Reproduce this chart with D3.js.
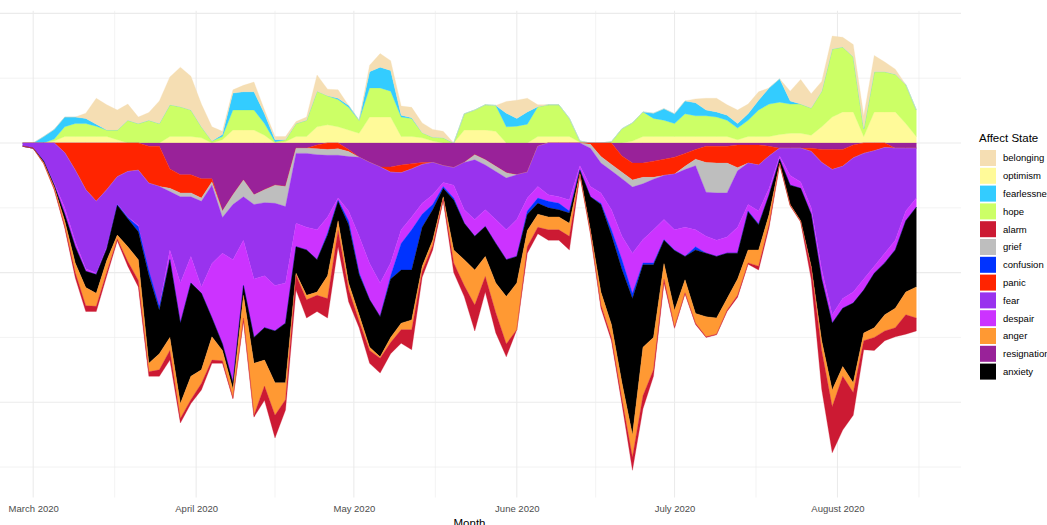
<!DOCTYPE html>
<html>
<head>
<meta charset="utf-8">
<script src="https://cdn.jsdelivr.net/npm/d3@7"></script>
<style>
  body { margin: 0; background: #fff; }
  svg { display: block; font-family: "Liberation Sans", Arial, sans-serif; }
</style>
</head>
<body>
<svg id="chart" width="1047" height="525"></svg>
<script>
// every second day, Feb 28 to Aug 16 2020
const dates = [
  "2020-02-28",
  "2020-03-01","2020-03-03","2020-03-05","2020-03-07","2020-03-09","2020-03-11","2020-03-13","2020-03-15",
  "2020-03-17","2020-03-19","2020-03-21","2020-03-23","2020-03-25","2020-03-27","2020-03-29","2020-03-31",
  "2020-04-02","2020-04-04","2020-04-06","2020-04-08","2020-04-10","2020-04-12","2020-04-14","2020-04-16",
  "2020-04-18","2020-04-20","2020-04-22","2020-04-24","2020-04-26","2020-04-28","2020-04-30",
  "2020-05-02","2020-05-04","2020-05-06","2020-05-08","2020-05-10","2020-05-12","2020-05-14","2020-05-16",
  "2020-05-18","2020-05-20","2020-05-22","2020-05-24","2020-05-26","2020-05-28","2020-05-30",
  "2020-06-01","2020-06-03","2020-06-05","2020-06-07","2020-06-09","2020-06-11","2020-06-13","2020-06-15",
  "2020-06-17","2020-06-19","2020-06-21","2020-06-23","2020-06-25","2020-06-27","2020-06-29",
  "2020-07-01","2020-07-03","2020-07-05","2020-07-07","2020-07-09","2020-07-11","2020-07-13","2020-07-15",
  "2020-07-17","2020-07-19","2020-07-21","2020-07-23","2020-07-25","2020-07-27","2020-07-29","2020-07-31",
  "2020-08-02","2020-08-04","2020-08-06","2020-08-08","2020-08-10","2020-08-12","2020-08-14","2020-08-16"
];

// positive states (plotted above zero)
const optimism = [
  0, 0, 0, 0.3, 1.0, 1.0, 1.0, 1.0, 1.0, 0.5,
  0, 0, 0, 0, 1.0, 1.0, 1.0, 0.8, 0, 0.5,
  2.0, 2.0, 2.0, 1.2, 0, 0.2, 1.0, 1.0, 2.5, 2.8,
  2.5, 2.0, 1.5, 4.0, 4.0, 4.0, 1.0, 1.0, 0.8, 0.3,
  0, 0, 2.0, 2.0, 2.0, 1.8, 0, 0, 0, 1.0,
  1.0, 1.0, 1.0, 0.1, 0, 0, 0, 0, 0.3, 1.0,
  1.0, 1.0, 1.0, 1.0, 1.0, 1.0, 1.0, 1.0, 0.5, 1.0,
  1.0, 1.0, 1.3, 1.5, 1.5, 1.2, 2.5, 4.0, 4.8, 4.8,
  1.0, 4.8, 4.8, 4.8, 3.0, 1.0
];
const hope = [
  0, 0, 0, 0.3, 1.5, 2.0, 2.0, 1.6, 1.0, 1.5,
  3.5, 3.0, 3.5, 3.0, 4.9, 4.6, 4.1, 1.7, 0.3, 0.5,
  3.1, 3.1, 3.1, 1.8, 0.2, 0.3, 2.0, 2.5, 5.5, 4.5,
  4.2, 3.5, 2.0, 4.5, 4.5, 4.0, 3.0, 2.8, 0.8, 0.6,
  0.8, 0, 2.5, 3.1, 3.9, 4.0, 2.5, 2.6, 2.9, 4.6,
  4.9, 4.9, 2.8, 0.2, 0, 0, 0.2, 2.2, 2.8, 3.8,
  2.8, 2.5, 2.0, 3.5, 3.2, 3.2, 3.0, 2.5, 1.8, 2.5,
  4.1, 5.0, 5.0, 4.5, 4.5, 4.2, 5.5, 10.5, 10.0, 8.5,
  1.2, 6.2, 6.2, 5.8, 6.0, 4.1
];
const fearlessness = [
  0, 0, 1.0, 1.5, 1.5, 1.0, 0.8, 0.3, 0, 0,
  0, 0, 0, 0, 0, 0, 0, 0, 0, 0.3,
  2.6, 2.8, 2.8, 1.5, 0.3, 0, 0, 0, 0, 0,
  0.2, 0.3, 0, 2.5, 3.2, 3.2, 0.3, 0.1, 0, 0,
  0, 0, 0, 0, 0, 0, 2.1, 1.2, 1.9, 0,
  0, 0, 0, 0, 0, 0, 0, 0, 0, 0,
  0.8, 1.8, 1.5, 2.0, 2.0, 0.9, 0.8, 0.8, 0.7, 1.0,
  1.5, 2.5, 3.6, 0.5, 0, 0, 0, 0, 0, 0,
  0, 0, 0, 0, 0, 0
];
const belonging = [
  0, 0, 0, 0, 0, 0, 0.8, 4.0, 3.9, 3.1,
  2.5, 1.0, 1.2, 3.5, 4.3, 6.1, 5.2, 3.5, 2.2, 0.5,
  0.5, 1.0, 1.5, 0.6, 0.5, 0.5, 0.3, 0.5, 2.5, 1.0,
  1.3, 0, 0, 1.0, 2.1, 1.5, 1.4, 1.6, 1.5, 1.2,
  1.0, 0, 0, 0, 0, 0, 1.8, 2.8, 2.1, 0.3,
  0, 0, 0, 0, 0, 0, 0, 0, 0, 0,
  0, 0, 0, 0, 0.6, 1.8, 2.1, 1.6, 2.1, 1.5,
  1.3, 0, 0, 1.5, 3.8, 2.2, 1.5, 2.0, 1.5, 1.9,
  2.0, 2.5, 1.5, 0.8, 0, 0
];

// negative states (magnitudes, plotted below zero)
const resignation = [
  0, 0, 0, 0, 0, 0, 0, 0, 0, 0,
  0, 0, 0.5, 0.5, 4.0, 4.9, 4.9, 5.5, 5.5, 10.5,
  8.0, 5.7, 8.0, 7.2, 6.5, 6.7, 0.8, 0.8, 0.3, 0,
  0, 1.0, 2.2, 3.0, 3.7, 3.7, 3.4, 3.2, 3.0, 3.0,
  3.5, 3.8, 3.0, 1.8, 2.6, 3.6, 4.6, 4.9, 4.5, 0.5,
  0, 0, 0, 0, 0, 0, 0, 2.0, 3.1, 3.1,
  2.8, 2.5, 2.2, 1.6, 1.0, 0.5, 0.5, 0.5, 0.3, 0.3,
  0.3, 0.5, 0.8, 0.8, 0.8, 0.8, 1.0, 1.0, 1.0, 0.3,
  0, 0, 0, 0.8, 0.8, 0.8
];
const panic = [
  0, 0, 0, 0, 1.5, 4.2, 7.2, 9.0, 7.2, 5.2,
  4.4, 4.2, 5.7, 6.2, 3.0, 2.8, 2.8, 3.0, 0.5, 0,
  0, 0, 0, 0, 0, 0, 0, 0, 0.6, 1.0,
  0.9, 0.3, 0, 0, 0, 0.8, 1.2, 0.8, 0.3, 0,
  0, 0, 0, 0, 0, 0, 0, 0, 0, 0,
  0, 0, 0, 0, 0.2, 2.1, 3.3, 2.5, 2.6, 2.2,
  2.5, 2.5, 2.6, 2.0, 1.5, 2.5, 2.6, 2.6, 3.5, 2.8,
  3.1, 1.5, 0, 0, 0, 0.5, 2.0, 3.1, 2.6, 2.0,
  1.6, 1.2, 0.7, 0, 0, 0
];
const grief = [
  0, 0, 0, 0, 0, 0, 0, 0, 0, 0,
  0, 0, 0, 0, 0.5, 0.6, 0.6, 0.5, 0.5, 1.0,
  1.5, 2.6, 1.5, 2.0, 2.8, 3.1, 0.8, 0.8, 0.9, 0.9,
  1.0, 0.8, 0, 0, 0, 0, 0, 0, 0, 0,
  0, 0, 0, 0.8, 0.8, 0.8, 0.8, 0, 0, 0,
  0, 0, 0, 0, 0.6, 1.0, 1.0, 1.0, 1.1, 1.0,
  0.3, 0, 0, 0.5, 1.0, 4.6, 4.6, 4.6, 0.5, 0,
  0, 0, 0, 0, 0, 0, 0, 0, 0, 0,
  0, 0, 0, 0, 0, 0
];
const fear = [
  0.5, 0.8, 2.8, 6.2, 8.5, 11.0, 12.2, 11.1, 8.8, 4.2,
  7.0, 8.5, 13.4, 18.5, 9.0, 13.3, 9.2, 13.2, 12.1, 5.5,
  8.5, 6.7, 11.5, 11.3, 12.7, 11.8, 10.8, 11.4, 11.6, 9.5,
  6.6, 8.4, 12.2, 15.6, 17.9, 14.0, 8.8, 7.4, 6.0, 5.0,
  2.6, 2.7, 7.3, 9.2, 6.9, 7.4, 8.0, 6.9, 4.0, 6.2,
  8.0, 8.3, 8.8, 3.5, 5.9, 4.6, 6.0, 8.9, 10.2, 8.6,
  7.8, 6.8, 8.6, 8.9, 9.9, 6.8, 7.3, 6.8, 8.7, 6.4,
  7.1, 5.0, 1.2, 4.2, 5.2, 8.7, 16.5, 22.4, 20.4, 20.7,
  19.4, 17.8, 16.3, 14.2, 9.7, 7.7
];
const despair = [
  0, 0, 0, 0.3, 1.0, 0.8, 0.4, 0.2, 0.3, 0.1,
  0.1, 0.2, 0, 0, 1.5, 6.2, 4.1, 1.0, 8.4, 14.0,
  19.0, 7.0, 9.0, 8.0, 7.0, 6.2, 3.6, 3.5, 4.6, 2.5,
  0.3, 1.5, 5.6, 5.6, 5.2, 2.0, 2.1, 2.0, 1.7, 1.5,
  0.6, 2.0, 2.1, 2.6, 2.6, 3.7, 4.6, 5.7, 2.0, 1.8,
  1.0, 1.0, 1.7, 0.6, 1.6, 1.6, 3.1, 3.6, 6.2, 3.6,
  5.1, 3.1, 3.1, 4.5, 2.6, 2.6, 2.5, 2.5, 4.0, 1.0,
  2.0, 1.0, 0.5, 1.5, 1.0, 1.0, 1.5, 1.3, 1.5, 1.7,
  1.7, 1.1, 1.5, 1.5, 1.5, 1.4
];
const confusion = [
  0, 0, 0, 0, 0, 0, 0, 0, 0, 0.1,
  0.2, 0.8, 0.8, 0.6, 0, 0, 0, 0, 0, 0,
  0, 0, 0, 0, 0, 0, 0, 0, 0, 0.3,
  0.2, 0.6, 0.3, 0, 0, 0.5, 4.1, 6.2, 2.0, 0.8,
  0.3, 0.3, 0, 0, 0, 0, 0, 0, 0.5, 0.8,
  1.0, 1.0, 0.3, 0.1, 0, 0.2, 0.8, 1.5, 0.8, 0.3,
  0.3, 0.1, 0.1, 0, 0.5, 0, 0, 0, 0, 0.1,
  0.1, 0, 0, 0, 0, 0, 0, 0, 0, 0,
  0, 0, 0, 0, 0, 0
];
const anxiety = [
  0, 0, 0.2, 0.3, 1.0, 2.5, 2.5, 2.9, 1.8, 4.6,
  4.3, 4.3, 13.6, 6.7, 12.0, 12.4, 14.4, 11.8, 2.9, 1.0,
  1.0, 1.5, 4.0, 5.0, 8.0, 9.2, 4.1, 7.0, 5.0, 6.3,
  3.0, 9.0, 6.2, 7.3, 6.2, 9.0, 8.2, 7.7, 6.0, 4.7,
  1.3, 7.7, 5.6, 5.2, 4.6, 6.1, 5.7, 4.1, 2.5, 1.7,
  1.4, 1.1, 1.6, 0.5, 5.1, 13.5, 13.8, 17.5, 21.0, 12.7,
  11.2, 3.6, 9.2, 3.6, 9.8, 9.8, 9.5, 7.0, 4.0, 5.9,
  3.9, 3.0, 0.6, 3.0, 5.0, 8.0, 9.5, 10.3, 9.0, 12.3,
  6.6, 8.4, 8.0, 9.0, 11.0, 12.3
];
const anger = [
  0, 0, 0.2, 0.3, 0.8, 1.5, 2.8, 2.0, 1.8, 0.6,
  2.3, 3.2, 1.3, 2.5, 2.0, 2.3, 3.6, 2.1, 3.6, 1.6,
  1.3, 3.5, 8.0, 4.0, 5.0, 2.6, 0.3, 0.7, 0.5, 3.5,
  1.5, 1.0, 1.0, 0.5, 0.2, 0.8, 1.0, 1.5, 0.8, 0.8,
  0.3, 2.0, 4.0, 5.4, 3.1, 4.6, 7.3, 7.2, 2.5, 2.0,
  2.0, 2.0, 2.0, 0.2, 0.4, 2.0, 2.0, 2.5, 3.5, 7.5,
  5.0, 2.4, 2.6, 2.0, 1.5, 3.1, 2.5, 1.8, 2.5, 2.0,
  2.5, 1.5, 0.1, 0.1, 0.1, 0.3, 1.5, 2.6, 1.5, 1.5,
  1.2, 1.5, 2.5, 3.0, 3.5, 4.8
];
const alarm = [
  0, 0, 0, 0.1, 0.3, 0.8, 0.9, 0.8, 0.6, 0.3,
  0.7, 1.0, 0.7, 1.0, 1.5, 0.7, 0.6, 1.0, 0.5, 0.4,
  0.2, 0.5, 0.3, 2.2, 3.5, 1.6, 2.3, 2.8, 2.5, 3.0,
  2.5, 1.9, 1.0, 2.0, 2.3, 1.7, 2.1, 3.1, 0.9, 0.7,
  0.3, 1.5, 1.7, 4.0, 2.4, 3.1, 2.0, 0, 1.0, 1.0,
  1.6, 1.6, 2.1, 0.1, 0.2, 0.5, 0.5, 0.8, 2.0, 2.0,
  1.0, 0.6, 0.2, 0.2, 0.2, 0.1, 0.1, 0.2, 0.3, 0.2,
  0.6, 0.5, 0.1, 0.1, 0.1, 1.7, 6.0, 7.1, 8.3, 3.5,
  1.4, 2.0, 1.5, 1.4, 3.0, 2.0
];

// legend order and fills
const legendStates = ["belonging", "optimism", "fearlessness", "hope", "alarm", "grief", "confusion",
  "panic", "fear", "despair", "anger", "resignation", "anxiety"];
const legendColors = ["#F5DEB3", "#FFFA99", "#33CCFF", "#CCFF66", "#CC1A33", "#BEBEBE", "#0033FF",
  "#FF2400", "#9933EE", "#CC33FF", "#FF9933", "#992299", "#000000"];

const series = { optimism, hope, fearlessness, belonging, resignation, panic, grief,
  fear, despair, confusion, anxiety, anger, alarm };
const posKeys = ["optimism", "hope", "fearlessness", "belonging"];
const negKeys = ["resignation", "panic", "grief", "fear", "despair", "confusion", "anxiety", "anger", "alarm"];

const parse = d3.utcParse("%Y-%m-%d");
const rows = dates.map((d, i) => {
  const r = { date: parse(d) };
  posKeys.forEach(k => r[k] = series[k][i]);
  negKeys.forEach(k => r[k] = -series[k][i]);
  return r;
});

const svg = d3.select("#chart");
const panel = { left: -22, right: 961, top: 10.8, bottom: 497.5 };

// x: date extent padded 5% each side
const ext = d3.extent(rows, d => d.date);
const pad = (ext[1] - ext[0]) * 0.05;
const x = d3.scaleUtc()
  .domain([new Date(+ext[0] - pad), new Date(+ext[1] + pad)])
  .range([panel.left, panel.right]);

const y = d3.scaleLinear()
  .domain([-54.7, 20.4])
  .range([panel.bottom, panel.top]);

const color = d3.scaleOrdinal().domain(legendStates).range(legendColors);

// grid
const grid = svg.append("g");
const months = x.ticks(d3.utcMonth.every(1));
const minor = [d3.utcMonth.offset(months[0], -1), ...months]
  .map(m => new Date((+m + +d3.utcMonth.offset(m, 1)) / 2))
  .filter(d => x(d) > panel.left && x(d) < panel.right);

grid.selectAll(".vminor").data(minor).join("line")
  .attr("x1", d => x(d)).attr("x2", d => x(d))
  .attr("y1", panel.top).attr("y2", panel.bottom)
  .attr("stroke", "#EBEBEB").attr("stroke-width", 0.6);
grid.selectAll(".vmajor").data(months).join("line")
  .attr("x1", d => x(d)).attr("x2", d => x(d))
  .attr("y1", panel.top).attr("y2", panel.bottom)
  .attr("stroke", "#EBEBEB").attr("stroke-width", 1.1);
grid.selectAll(".h").data(y.ticks(10)).join("line")
  .attr("x1", panel.left).attr("x2", panel.right)
  .attr("y1", d => y(d)).attr("y2", d => y(d))
  .attr("stroke", "#EBEBEB")
  .attr("stroke-width", d => d % 20 === 0 ? 1.1 : 0.6);

// stacked areas: positives up from zero, negatives down from zero
const area = d3.area()
  .x(d => x(d.data.date))
  .y0(d => y(d[0]))
  .y1(d => y(d[1]));

const layers = [
  ...d3.stack().keys(posKeys)(rows),
  ...d3.stack().keys(negKeys)(rows)
];

svg.append("g")
  .selectAll("path")
  .data(layers)
  .join("path")
  .attr("fill", d => color(d.key))
  .attr("stroke", d => color(d.key))
  .attr("stroke-width", 0.3)
  .attr("d", area);

// x axis
const xAxis = svg.append("g")
  .attr("transform", `translate(0,${panel.bottom})`)
  .call(d3.axisBottom(x).tickValues(months).tickFormat(d3.utcFormat("%B %Y")).tickSize(0).tickPadding(8));
xAxis.select(".domain").remove();
xAxis.selectAll("text")
  .attr("fill", "#4D4D4D")
  .style("font-size", "9.5px")
  .style("font-family", "'Liberation Sans', Arial, sans-serif");

svg.append("text")
  .attr("x", (panel.left + panel.right) / 2)
  .attr("y", 527)
  .attr("text-anchor", "middle")
  .style("font-size", "11.5px")
  .text("Month");

// legend
const legend = svg.append("g").attr("transform", "translate(979,0)");
legend.append("text")
  .attr("x", 0).attr("y", 142)
  .style("font-size", "11.5px")
  .text("Affect State");

const item = legend.selectAll(".item").data(legendStates).join("g")
  .attr("transform", (d, i) => `translate(0,${158 + i * 17.8})`);
item.append("rect")
  .attr("x", 1).attr("y", -8)
  .attr("width", 16).attr("height", 16)
  .attr("fill", d => color(d));
item.append("text")
  .attr("x", 24).attr("dy", "0.35em")
  .style("font-size", "9.5px")
  .text(d => d);
</script>
</body>
</html>
